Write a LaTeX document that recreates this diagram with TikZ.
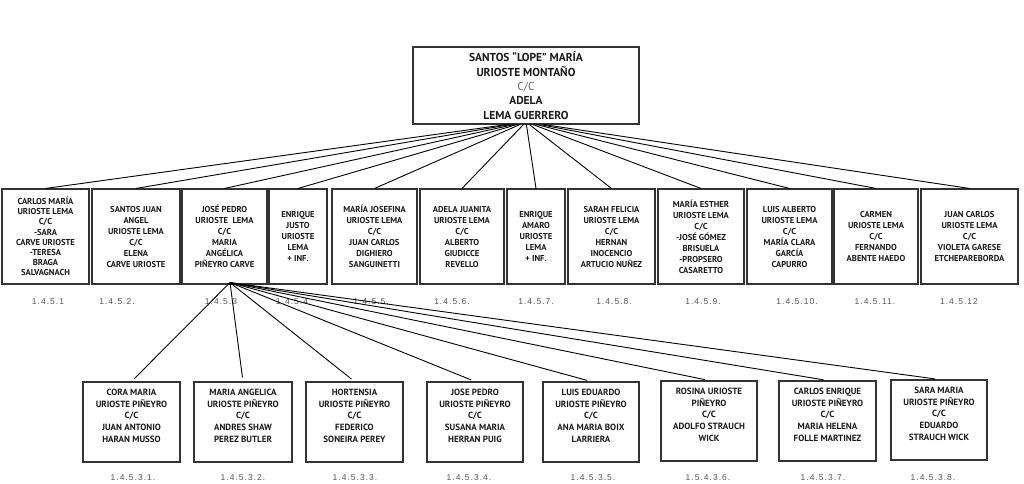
\documentclass[tikz,border=0pt]{standalone}
\usepackage{fontspec}
\setmainfont{PT Sans}
\newfontfamily\lblfont[LetterSpace=12]{Liberation Sans}
\usetikzlibrary{calc}
\newcommand\uptext[1]{\raisebox{5.5pt}[\height][\depth]{\begin{tabular}{@{}c@{}}#1\end{tabular}}}
\begin{document}
\begin{tikzpicture}[x=1pt,y=-1pt,
  box/.style={draw=black!80, line width=1.1pt, inner sep=0pt, align=center, text=black!90},
  gen1/.style={box, font=\bfseries\fontsize{8.6}{11}\selectfont, minimum height=95},
  gen2/.style={box, font=\bfseries\fontsize{9}{11.8}\selectfont, minimum height=80, minimum width=97},
  topbox/.style={box, font=\bfseries\fontsize{11.5}{14.4}\selectfont, minimum width=226, minimum height=77},
  num/.style={font=\lblfont\fontsize{8.5}{10}\selectfont, text=black!68, inner sep=0pt},
  link/.style={draw=black, line width=0.9pt}]
\useasboundingbox (0,0) rectangle (1024,483);

\node[topbox] (top) at (526,85.5) {SANTOS “LOPE” MARÍA\\URIOSTE MONTAÑO\\{\mdseries\color{black!60}C/C}\\ADELA\\LEMA GUERRERO};

% row 1
\node[gen1, minimum width=87, font=\bfseries\fontsize{8.6}{10.2}\selectfont] (r1) at (45.5,236.5) {CARLOS MARÍA\\URIOSTE LEMA\\C/C\\-SARA\\CARVE URIOSTE\\-TERESA\\BRAGA\\SALVAGNACH};
\node[gen1, minimum width=88] (r2) at (136,236.5) {SANTOS JUAN\\ANGEL\\URIOSTE LEMA\\C/C\\ELENA\\CARVE URIOSTE};
\node[gen1, minimum width=85] (r3) at (224.5,236.5) {JOSÉ PEDRO\\URIOSTE\ \ LEMA\\C/C\\MARIA\\ANGÉLICA\\PIÑEYRO CARVE};
\node[gen1, minimum width=58] (r4) at (298,236.5) {ENRIQUE\\JUSTO\\URIOSTE\\LEMA\\+ INF.};
\node[gen1, minimum width=85] (r5) at (374.5,236.5) {MARÍA JOSEFINA\\URIOSTE LEMA\\C/C\\JUAN CARLOS\\DIGHIERO\\SANGUINETTI};
\node[gen1, minimum width=84] (r6) at (462,236.5) {ADELA JUANITA\\URIOSTE LEMA\\C/C\\ALBERTO\\GIUDICCE\\REVELLO};
\node[gen1, minimum width=58] (r7) at (536,236.5) {ENRIQUE\\AMARO\\URIOSTE\\LEMA\\+ INF.};
\node[gen1, minimum width=87] (r8) at (611.5,236.5) {SARAH FELICIA\\URIOSTE LEMA\\C/C\\HERNAN\\INOCENCIO\\ARTUCIO NUÑEZ};
\node[gen1, minimum width=86] (r9) at (701,236.5) {MARÍA ESTHER\\URIOSTE LEMA\\C/C\\-JOSÉ GÓMEZ\\BRISUELA\\-PROPSERO\\CASARETTO};
\node[gen1, minimum width=85] (r10) at (789.5,236.5) {LUIS ALBERTO\\URIOSTE LEMA\\C/C\\MARÍA CLARA\\GARCÍA\\CAPURRO};
\node[gen1, minimum width=84] (r11) at (876,236.5) {CARMEN\\URIOSTE LEMA\\C/C\\FERNANDO\\ABENTE HAEDO};
\node[gen1, minimum width=97] (r12) at (969.5,236.5) {JUAN CARLOS\\URIOSTE LEMA\\C/C\\VIOLETA GARESE\\ETCHEPAREBORDA};

% row 1 numbers
\node[num] (l1) at (48,302) {1.4.5.1};
\node[num] (l2) at (117,302) {1.4.5.2.};
\node[num] (l3) at (221,302) {1.4.5.3};
\node[num] (l4) at (292,302) {1.4.5.4};
\node[num] (l5) at (371,302) {1.4.5.5.};
\node[num] (l6) at (452,302) {1.4.5.6.};
\node[num] (l7) at (536,302) {1.4.5.7.};
\node[num] (l8) at (614,302) {1.4.5.8.};
\node[num] (l9) at (703,302) {1.4.5.9.};
\node[num] (l10) at (797,302) {1.4.5.10.};
\node[num] (l11) at (875,302) {1.4.5.11.};
\node[num] (l12) at (959,302) {1.4.5.12};

% row 2
\node[gen2] (ca) at (131.5,422) {\uptext{CORA MARIA\\URIOSTE PIÑEYRO\\C/C\\JUAN ANTONIO\\HARAN MUSSO}};
\node[gen2, minimum width=98] (cb) at (243,422) {\uptext{MARIA ANGELICA\\URIOSTE PIÑEYRO\\C/C\\ANDRES SHAW\\PEREZ BUTLER}};
\node[gen2] (cc) at (354.5,422) {\uptext{HORTENSIA\\URIOSTE PIÑEYRO\\C/C\\FEDERICO\\SONEIRA PEREY}};
\node[gen2, minimum width=96] (cd) at (475,422) {\uptext{JOSE PEDRO\\URIOSTE PIÑEYRO\\C/C\\SUSANA MARIA\\HERRAN PUIG}};
\node[gen2, minimum width=96] (ce) at (591,422) {\uptext{LUIS EDUARDO\\URIOSTE PIÑEYRO\\C/C\\ANA MARIA BOIX\\LARRIERA}};
\node[gen2, minimum width=96] (cf) at (709,421) {\uptext{ROSINA URIOSTE\\PIÑEYRO\\C/C\\ADOLFO STRAUCH\\WICK}};
\node[gen2] (cg) at (827.5,421) {\uptext{CARLOS ENRIQUE\\URIOSTE PIÑEYRO\\C/C\\MARIA HELENA\\FOLLE MARTINEZ}};
\node[gen2, minimum width=96] (ch) at (939,420) {\uptext{SARA MARIA\\URIOSTE PIÑEYRO\\C/C\\EDUARDO\\STRAUCH WICK}};

% row 2 numbers
\node[num] (m1) at (133,478) {1.4.5.3.1.};
\node[num] (m2) at (243,478) {1.4.5.3.2.};
\node[num] (m3) at (355,478) {1.4.5.3.3.};
\node[num] (m4) at (469,478) {1.4.5.3.4.};
\node[num] (m5) at (593,478) {1.4.5.3.5.};
\node[num] (m6) at (708,478) {1.5.4.3.6.};
\node[num] (m7) at (823,478) {1.4.5.3.7.};
\node[num] (m8) at (933,478) {1.4.5.3.8.};

% connectors from the parents
\foreach \i in {1,...,12}{
  \coordinate (s\i) at ($(top.south)!0.04!(r\i.north)$);
  \draw[link] (s\i |- top.south) -- (r\i.north);
}

% connectors from 1.4.5.3
\coordinate (hub) at ([xshift=5.5pt,yshift=2pt]r3.south);
\foreach \n in {ca,cb,cc,cd,ce,cf,cg,ch}{
  \draw[link, shorten >=4pt] (hub) -- (\n.north);
}
\end{tikzpicture}
\end{document}
